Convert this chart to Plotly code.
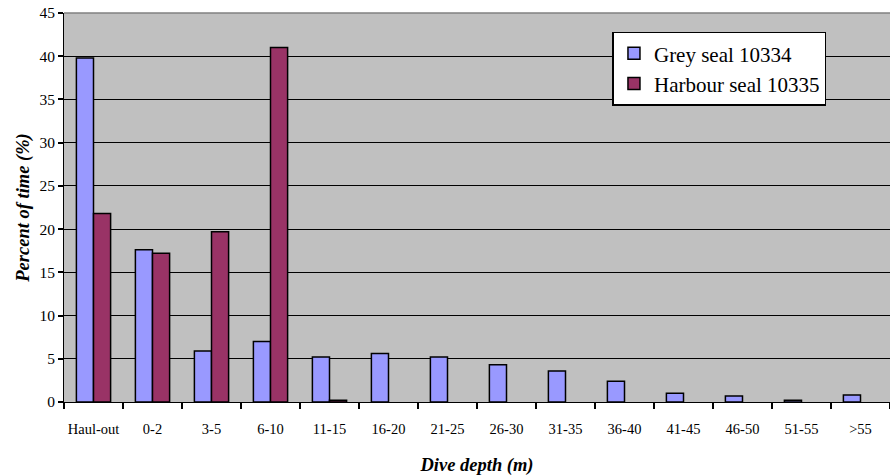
import plotly.graph_objects as go

categories = ["Haul-out", "0-2", "3-5", "6-10", "11-15", "16-20", "21-25", "26-30",
              "31-35", "36-40", "41-45", "46-50", "51-55", ">55"]
grey_seal = [39.8, 17.6, 5.9, 7.0, 5.2, 5.6, 5.2, 4.3, 3.6, 2.4, 1.0, 0.7, 0.2, 0.8]
harbour_seal = [21.8, 17.2, 19.7, 41.0, 0.2, 0, 0, 0, 0, 0, 0, 0, 0, 0]
y_ticks = [0, 5, 10, 15, 20, 25, 30, 35, 40, 45]

FONT = "Liberation Serif"


def hide_zero(vals):
    return [v if v != 0 else None for v in vals]


fig = go.Figure()
fig.add_trace(go.Bar(x=categories, y=hide_zero(grey_seal), name="Grey seal 10334", legendgroup="g",
                     marker=dict(color="#9999FF", line=dict(color="black", width=1.5))))
fig.add_trace(go.Bar(x=categories, y=hide_zero(harbour_seal), name="Harbour seal 10335", legendgroup="h",
                     marker=dict(color="#993366", line=dict(color="black", width=1.5))))

fig.update_layout(
    width=890, height=476,
    margin=dict(l=64, r=0, t=13, b=74, autoexpand=False),
    paper_bgcolor="white", plot_bgcolor="#C0C0C0",
    barmode="group", bargap=0.42, bargroupgap=0,
    font=dict(family=FONT, color="black"),
    legend=dict(x=0.664, y=0.952, xanchor="left", yanchor="top",
                bgcolor="white", bordercolor="black", borderwidth=1.5,
                font=dict(family=FONT, size=21, color="black"), itemwidth=30,
                tracegroupgap=6, traceorder="normal"),
    xaxis=dict(
        automargin=False, tickangle=0,
        showline=True, linecolor="black", linewidth=1,
        ticks="outside", tickson="boundaries", ticklen=6, tickcolor="black", tickwidth=1.5,
        tickfont=dict(size=14.5, family=FONT, color="black"),
        ticklabelstandoff=14,
        title=dict(text="<b><i>Dive depth (m)</i></b>", font=dict(size=18.5, family=FONT, color="black"), standoff=21),
    ),
    yaxis=dict(
        automargin=False,
        range=[0, 45], tickvals=y_ticks,
        showline=True, linecolor="black", linewidth=1,
        ticks="outside", ticklen=5, tickcolor="black", tickwidth=1.5,
        showgrid=True, gridcolor="black", gridwidth=1,
        tickfont=dict(size=15.5, family=FONT, color="black"),
        ticklabeloverflow="allow",
        title=dict(text="<b><i>Percent of time (%)</i></b>", font=dict(size=18.5, family=FONT, color="black"), standoff=4),
        zeroline=False,
    ),
)
fig.add_shape(type="line", xref="paper", yref="paper", x0=0, x1=1, y0=1, y1=1,
              line=dict(color="#808080", width=1.5))

fig.write_html("out.html", config={"displayModeBar": False},
               post_script="document.body.style.margin='0';")
